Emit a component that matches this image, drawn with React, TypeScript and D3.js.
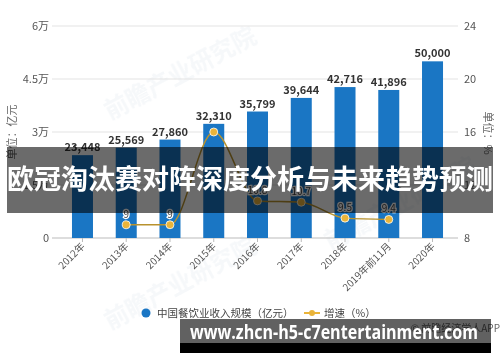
import React from 'react';
import * as d3 from 'd3';

// 中国餐饮业收入规模 (亿元) and 增速 (%)
const years = ['2012年', '2013年', '2014年', '2015年', '2016年', '2017年', '2018年', '2019年前11月', '2020年'];
const revenue = [23448, 25569, 27860, 32310, 35799, 39644, 42716, 41896, 50000];
const growthYears = ['2013年', '2014年', '2015年', '2016年', '2017年', '2018年', '2019年前11月'];
const growth = [9, 9, 16, 10.8, 10.7, 9.5, 9.4];
// the 2015 label is hidden under the bar label in the original
const growthLabels = ['9', '9', '', '10.8', '10.7', '9.5', '9.4'];
const leftTicks = [0, 15000, 30000, 45000, 60000];
const leftTickLabels = ['0', '1.5万', '3万', '4.5万', '6万'];
const rightTicks = [8, 12, 16, 20, 24];

const W = 500;
const H = 362;
const BLUE = '#1a76c4';
const GOLD = '#eab43a';
const GOLD_LINE = '#b8922e';
const FONT = '"Noto Sans CJK SC", "Noto Sans", sans-serif';

export default function App() {
  const x = d3.scaleBand<string>()
    .domain(years)
    .range([60.6, 454.4])
    .paddingInner(0.52)
    .paddingOuter(0.26);
  const yL = d3.scaleLinear().domain([0, 60000]).range([238, 26]);
  const yR = d3.scaleLinear().domain([8, 24]).range([238, 26]);
  const cx = (d: string) => (x(d) ?? 0) + x.bandwidth() / 2;

  const line = d3.line<number>()
    .x((_, i) => cx(growthYears[i]))
    .y(d => yR(d))
    .curve(d3.curveMonotoneX);

  return (
    <svg width={W} height={H} style={{ position: 'absolute', left: 0, top: 0, background: '#fff' }} fontFamily={FONT}>
      {/* faint watermarks */}
      <g opacity={0.04} fill="#1a4f80" fontSize={24} fontWeight="bold">
        <text transform="translate(110,120) rotate(-28)">前瞻产业研究院</text>
        <text transform="translate(330,250) rotate(-28)">前瞻产业研究院</text>
        <text transform="translate(110,330) rotate(-28)">前瞻产业研究院</text>
      </g>

      {/* grid */}
      {leftTicks.slice(1).map(t => (
        <line key={t} x1={52} x2={458} y1={yL(t)} y2={yL(t)} stroke="#e3e3e3" />
      ))}
      <line x1={52} x2={458} y1={yL(0)} y2={yL(0)} stroke="#bbb" />

      {/* left axis */}
      {leftTicks.map((t, i) => (
        <text key={t} x={49} y={yL(t)} dy="0.35em" textAnchor="end" fontSize={11} fill="#555">{leftTickLabels[i]}</text>
      ))}
      <text transform="translate(16,132) rotate(-90)" textAnchor="middle" fontSize={11} fill="#666">单位：亿元</text>

      {/* right axis */}
      {rightTicks.map(t => (
        <text key={t} x={464} y={yR(t)} dy="0.35em" fontSize={11} fill="#555">{t}</text>
      ))}
      <text transform="translate(484,133) rotate(90)" textAnchor="middle" fontSize={11} fill="#666">单位：%</text>

      {/* x axis */}
      {years.map(d => (
        <g key={d}>
          <line x1={cx(d)} x2={cx(d)} y1={238} y2={242} stroke="#bbb" />
          <text transform={`translate(${cx(d) + 3},${247}) rotate(-45)`} textAnchor="end" fontSize={10} fill="#555">{d}</text>
        </g>
      ))}

      {/* bars */}
      {years.map((d, i) => (
        <g key={d}>
          <rect x={x(d)} y={yL(revenue[i])} width={x.bandwidth()} height={yL(0) - yL(revenue[i])} fill={BLUE} />
          <text x={cx(d)} y={yL(revenue[i]) - 4} textAnchor="middle" fontSize={11} fontWeight="bold" fill="#333">
            {d3.format(',')(revenue[i])}
          </text>
        </g>
      ))}

      {/* growth line */}
      <path d={line(growth) ?? ''} fill="none" stroke={GOLD_LINE} strokeWidth={1.5} />
      {growth.map((g, i) => (
        <g key={growthYears[i]}>
          <circle cx={cx(growthYears[i])} cy={yR(g)} r={4} fill={GOLD} stroke="#fff" strokeWidth={0.8} />
          {growthLabels[i] && (
            <text x={cx(growthYears[i])} y={yR(g) - 7} textAnchor="middle" fontSize={10} fill="#444"
              stroke="#fff" strokeWidth={2.5} paintOrder="stroke">{growthLabels[i]}</text>
          )}
        </g>
      ))}

      {/* legend */}
      <circle cx={146} cy={313} r={4.5} fill={BLUE} />
      <text x={157} y={313} dy="0.35em" fontSize={10.5} fill="#444">中国餐饮业收入规模（亿元）</text>
      <line x1={304} x2={320} y1={313} y2={313} stroke={GOLD} strokeWidth={2} />
      <circle cx={312} cy={313} r={3} fill={GOLD} />
      <text x={324} y={313} dy="0.35em" fontSize={10.5} fill="#444">增速（%）</text>
      <text x={500} y={332} textAnchor="end" fontSize={10} fill="#666">© 前瞻经济学人APP</text>

      {/* title banner overlay */}
      <rect x={7} y={147} width={486} height={66} fill="rgba(0,0,0,0.58)" />
      <text x={250} y={180} dy="0.35em" textAnchor="middle" fontSize={27} fontWeight="bold" fill="#fff">
        欧冠淘汰赛对阵深度分析与未来趋势预测
      </text>

      {/* url box */}
      <rect x={180} y={319} width={311} height={24} fill="rgba(0,0,0,0.62)" />
      <rect x={180} y={343} width={311} height={10} fill="#000" />
      <text x={190} y={339} fontSize={19} fontWeight="bold" fill="#fff" textLength={288} lengthAdjust="spacingAndGlyphs"
        fontFamily='"Open Sans", "DejaVu Sans", sans-serif'>
        www.zhcn-h5-c7entertainment.com
      </text>
    </svg>
  );
}
